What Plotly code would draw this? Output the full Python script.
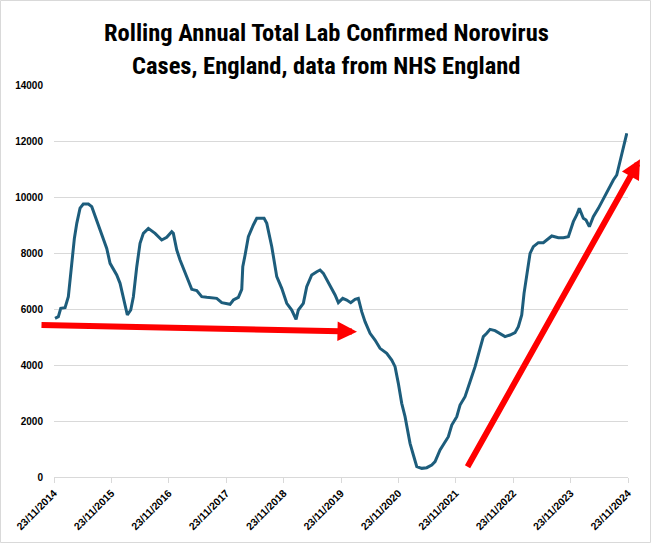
import plotly.graph_objects as go

# decimal years and rolling annual totals
years = [2014.911, 2014.969, 2015.011, 2015.086, 2015.143, 2015.202, 2015.230, 2015.248, 2015.290, 2015.347,
         2015.404, 2015.492, 2015.551, 2015.638, 2015.753, 2015.812, 2015.870, 2015.986, 2016.044, 2016.101,
         2016.171, 2016.230, 2016.276, 2016.335, 2016.392, 2016.450, 2016.537, 2016.654, 2016.770, 2016.857,
         2016.944, 2016.972, 2017.032, 2017.089, 2017.147, 2017.206, 2017.293, 2017.380, 2017.467, 2017.554,
         2017.728, 2017.816, 2017.960, 2018.018, 2018.105, 2018.164, 2018.182, 2018.222, 2018.279, 2018.366,
         2018.425, 2018.553, 2018.600, 2018.687, 2018.774, 2018.861, 2018.948, 2019.035, 2019.110, 2019.150,
         2019.237, 2019.296, 2019.383, 2019.471, 2019.528, 2019.586, 2019.702, 2019.790, 2019.847, 2019.924,
         2019.993, 2020.063, 2020.138, 2020.195, 2020.254, 2020.312, 2020.399, 2020.486, 2020.573, 2020.690,
         2020.777, 2020.835, 2020.892, 2020.951, 2021.009, 2021.096, 2021.154, 2021.213, 2021.300, 2021.387,
         2021.474, 2021.532, 2021.619, 2021.706, 2021.763, 2021.823, 2021.910, 2021.967, 2022.054, 2022.141,
         2022.229, 2022.316, 2022.373, 2022.432, 2022.490, 2022.577, 2022.664, 2022.751, 2022.838, 2022.925,
         2022.983, 2023.042, 2023.082, 2023.129, 2023.187, 2023.244, 2023.331, 2023.418, 2023.505, 2023.565,
         2023.680, 2023.767, 2023.854, 2023.941, 2024.000, 2024.045, 2024.115, 2024.162, 2024.220, 2024.289,
         2024.377, 2024.464, 2024.551, 2024.638, 2024.697, 2024.755, 2024.813, 2024.872]
cases = [5667, 5725, 6024, 6045, 6440, 7630, 8045, 8520, 9060, 9600,
         9750, 9750, 9655, 9180, 8520, 8165, 7630, 7215, 6917, 6380,
         5786, 5964, 6440, 7511, 8345, 8702, 8880, 8702, 8464, 8560,
         8762, 8702, 8107, 7750, 7452, 7154, 6702, 6655, 6440, 6417,
         6380, 6226, 6167, 6321, 6417, 6702, 7511, 7929, 8583, 9000,
         9238, 9238, 9060, 8226, 7155, 6738, 6202, 5964, 5631, 5964,
         6202, 6798, 7215, 7333, 7393, 7274, 6857, 6500, 6226, 6380,
         6321, 6226, 6345, 6380, 5905, 5548, 5131, 4893, 4595, 4417,
         4179, 3940, 3345, 2631, 2155, 1202, 786, 369, 309, 333,
         429, 548, 964, 1262, 1440, 1857, 2155, 2571, 2869, 3405,
         3940, 4595, 5012, 5131, 5274, 5226, 5131, 5012, 5071, 5155,
         5369, 5786, 6560, 7155, 7988, 8226, 8369, 8369, 8524, 8607,
         8548, 8548, 8583, 9119, 9357, 9595, 9238, 9179, 8940, 9298,
         9595, 9952, 10250, 10607, 10786, 11262, 11738, 12274]

tick_labels = ["23/11/2014", "23/11/2015", "23/11/2016", "23/11/2017", "23/11/2018", "23/11/2019",
               "23/11/2020", "23/11/2021", "23/11/2022", "23/11/2023", "23/11/2024"]
tick_vals = [int(t[-4:]) + 326 / 365 for t in tick_labels]
y_ticks = [0, 2000, 4000, 6000, 8000, 10000, 12000, 14000]

title_line1 = "Rolling Annual Total Lab Confirmed Norovirus"
title_line2 = "Cases, England, data from NHS England"

W, H = 652, 544
L, R, T, B = 54, 24, 85, 67
PW, PH = W - L - R, H - T - B

def px(x):
    return (x - L) / PW

def py(y):
    return (H - B - y) / PH

fig = go.Figure()
fig.add_trace(go.Scatter(x=years, y=cases, mode="lines",
                         line=dict(color="#1d5d7c", width=3), showlegend=False))

title_font = dict(family="Liberation Sans Narrow, Roboto Condensed, DejaVu Sans Condensed, Arial Narrow",
                  size=24.5, color="black")
fig.add_annotation(text="<b>" + title_line1 + "</b>", xref="paper", yref="paper",
                   x=px(326), y=py(32), xanchor="center", yanchor="middle", showarrow=False, font=title_font)
fig.add_annotation(text="<b>" + title_line2 + "</b>", xref="paper", yref="paper",
                   x=px(326), y=py(66), xanchor="center", yanchor="middle", showarrow=False, font=title_font)

# red arrows
arrow_style = dict(xref="paper", yref="paper", axref="pixel", ayref="pixel", showarrow=True,
                   arrowhead=2, arrowsize=0.65, arrowwidth=6, arrowcolor="#ff0000", text="", standoff=0)
fig.add_annotation(x=px(357), y=py(331.7), ax=40 - 357, ay=325 - 331.7, **arrow_style)
fig.add_annotation(x=px(640), y=py(159.3), ax=466.7 - 640, ay=468.3 - 159.3, **arrow_style)

# outer border
fig.add_shape(type="rect", xref="paper", yref="paper",
              x0=px(0.5), x1=px(650.5), y0=py(542.5), y1=py(0.5),
              line=dict(color="#d9d9d9", width=1), fillcolor="rgba(0,0,0,0)")

fig.update_layout(
    width=W, height=H, margin=dict(l=L, r=R, t=T, b=B),
    paper_bgcolor="white", plot_bgcolor="white",
    font=dict(family="Liberation Sans, Arial", size=10, color="black"),
    xaxis=dict(range=[tick_vals[0], tick_vals[-1]], tickvals=tick_vals, ticktext=["<b>" + t + "</b>" for t in tick_labels],
               tickangle=-45, showgrid=False, showline=True, linecolor="#d9d9d9", linewidth=1,
               ticks="outside", ticklen=5, tickcolor="#d9d9d9", zeroline=False,
               tickfont=dict(size=10.5)),
    yaxis=dict(range=[0, 14000], tickvals=y_ticks, ticktext=["<b>%d</b>" % v for v in y_ticks],
               showgrid=True, gridcolor="#d9d9d9", gridwidth=1, zeroline=False, showline=False,
               ticklabelstandoff=10, tickfont=dict(size=10)),
)

fig.write_html("out.html", config={"displayModeBar": False},
               post_script="document.body.style.margin='0';")
